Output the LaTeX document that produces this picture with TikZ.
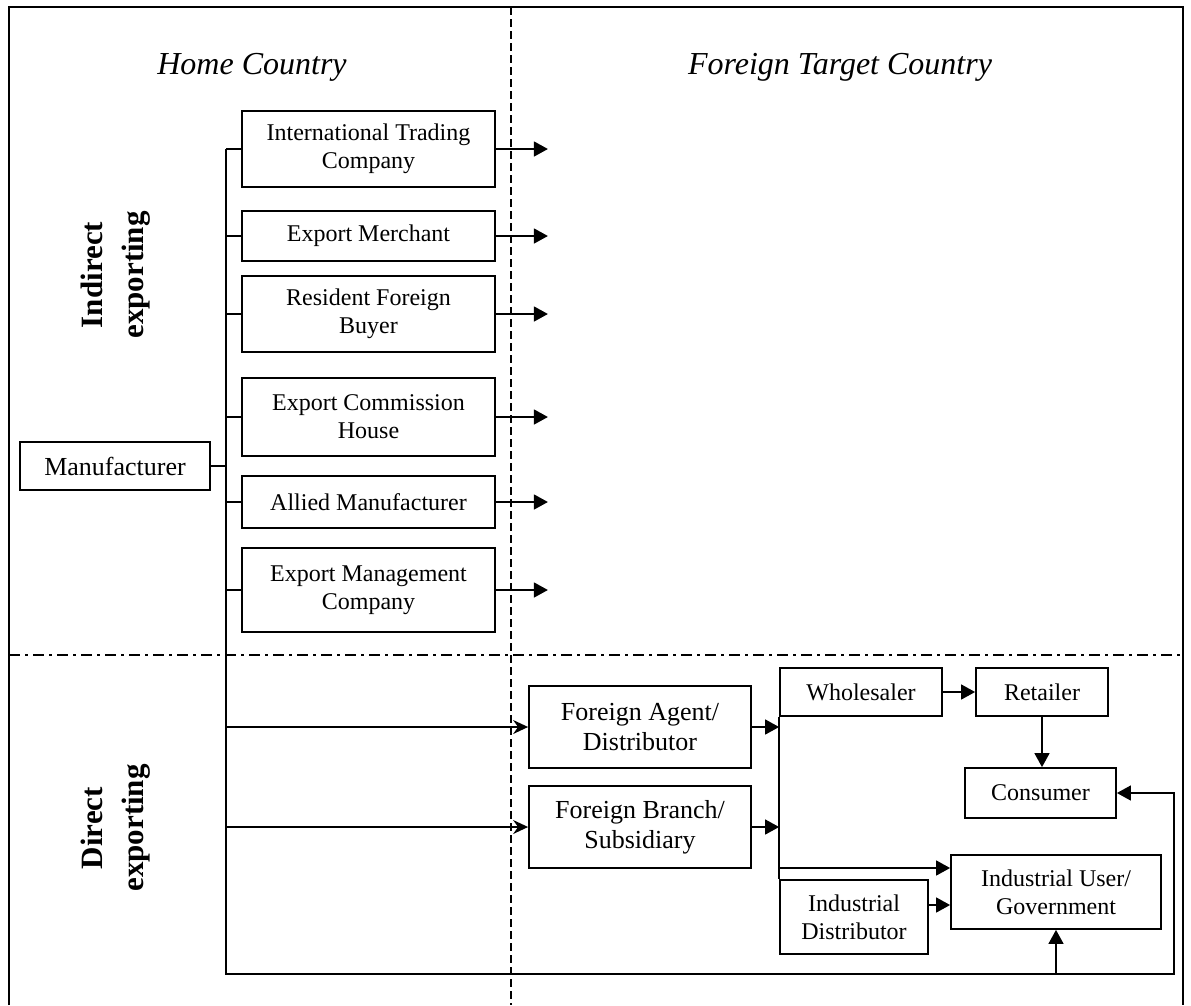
\documentclass[tikz,border=0pt]{standalone}
\usepackage{fontspec}
\setmainfont{Liberation Serif}
\usetikzlibrary{arrows.meta}
\begin{document}
\begin{tikzpicture}[x=1pt,y=-1pt,
  box/.style={draw, line width=1.8pt, inner sep=0pt, align=center, font=\fontsize{24}{28}\selectfont},
  bigbox/.style={box, font=\fontsize{26}{30}\selectfont},
  conn/.style={line width=1.5pt},
  arr/.style={conn, -{Triangle[length=14pt,width=15pt]}},
  sarr/.style={conn, -{Stealth[length=15pt,width=14pt,inset=5pt]}},
  title/.style={font=\itshape\fontsize{32}{38}\selectfont},
  side/.style={rotate=90, align=center, font=\bfseries\fontsize{31}{41}\selectfont},
  divv/.style={line width=1.3pt, dash pattern=on 8pt off 4pt},
  divh/.style={line width=1.4pt, dash pattern=on 11pt off 5pt on 3pt off 5pt}
]
\useasboundingbox (0,0) rectangle (1191,1005);

% frame
\draw[line width=1.4pt] (9,1005) -- (9,7) -- (1183,7) -- (1183,1005);
% dividers
\coordinate (vt) at (511,7);
\coordinate (vb) at (511,1005);
\draw[divv] (vt) -- (vb);
\coordinate (hl) at (9,655);
\coordinate (hr) at (1183,655);
\draw[divh] (hl) -- (hr);

% titles
\node[title] (home) at (252,67) {Home Country};
\node[title] (foreign) at (840,67) {Foreign Target Country};
\node[side] (indirect) at (116,275) {Indirect\\exporting};
\node[side] (direct) at (116,828) {Direct\\exporting};

% manufacturer and bus
\node[bigbox, minimum width=190pt, minimum height=48pt] (man) at (115,466) {Manufacturer};
\coordinate (bt) at (226,149);
\coordinate (bb) at (226,974);

% indirect boxes
\node[box, minimum width=253pt, minimum height=76pt] (itc) at (368.5,149) {International Trading\\Company};
\node[box, minimum width=253pt, minimum height=50pt] (em) at (368.5,236) {Export Merchant};
\node[box, minimum width=253pt, minimum height=76pt] (rfb) at (368.5,314) {Resident Foreign\\Buyer};
\node[box, minimum width=253pt, minimum height=78pt] (ech) at (368.5,417) {Export Commission\\House};
\node[box, minimum width=253pt, minimum height=52pt] (am) at (368.5,502) {Allied Manufacturer};
\node[box, minimum width=253pt, minimum height=84pt] (emc) at (368.5,590) {Export Management\\Company};

\foreach \n in {itc,em,rfb,ech,am,emc}{
  \coordinate (\n-end) at ([xshift=52pt]\n.east);
  \draw[conn] (\n.west -| bt) -- (\n.west);
  \draw[arr] (\n.east) -- (\n-end);
}
\draw[conn] (man.east) -- (man.east -| bt);

% direct boxes
\node[bigbox, minimum width=222pt, minimum height=82pt] (fa) at (640,727) {Foreign Agent/\\Distributor};
\node[bigbox, minimum width=222pt, minimum height=82pt] (fb) at (640,827) {Foreign Branch/\\Subsidiary};
\node[box, minimum width=162pt, minimum height=48pt] (wh) at (861,692) {Wholesaler};
\node[box, minimum width=132pt, minimum height=48pt] (ret) at (1042,692) {Retailer};
\node[box, minimum width=151pt, minimum height=50pt] (con) at (1040.5,793) {Consumer};
\node[box, minimum width=210pt, minimum height=74pt] (iu) at (1056,892) {Industrial User/\\Government};
\node[box, minimum width=148pt, minimum height=74pt] (id) at (854,917) {Industrial\\Distributor};

% main bus with bottom loop to consumer
\coordinate (rc) at (1174,974);
\draw[arr] (bt) -- (bb) -- (rc) -- (rc |- con.east) -- (con.east);
\draw[arr] (iu.south |- bb) -- (iu.south);

\draw[sarr] (fa.west -| bt) -- (fa.west);
\draw[sarr] (fb.west -| bt) -- (fb.west);

% second bus
\draw[conn] (wh.south west) -- (id.north west);
\draw[arr] (fa.east) -- (fa.east -| wh.west);
\draw[arr] (fb.east) -- (fb.east -| wh.west);
\coordinate (j) at (780,868);
\draw[arr] (j) -- (j -| iu.west);
\draw[arr] ([yshift=12pt]id.east) -- ([yshift=12pt]id.east -| iu.west);
\draw[arr] (wh) -- (ret);
\draw[arr] (ret.south) -- (ret.south |- con.north);
\end{tikzpicture}
\end{document}
